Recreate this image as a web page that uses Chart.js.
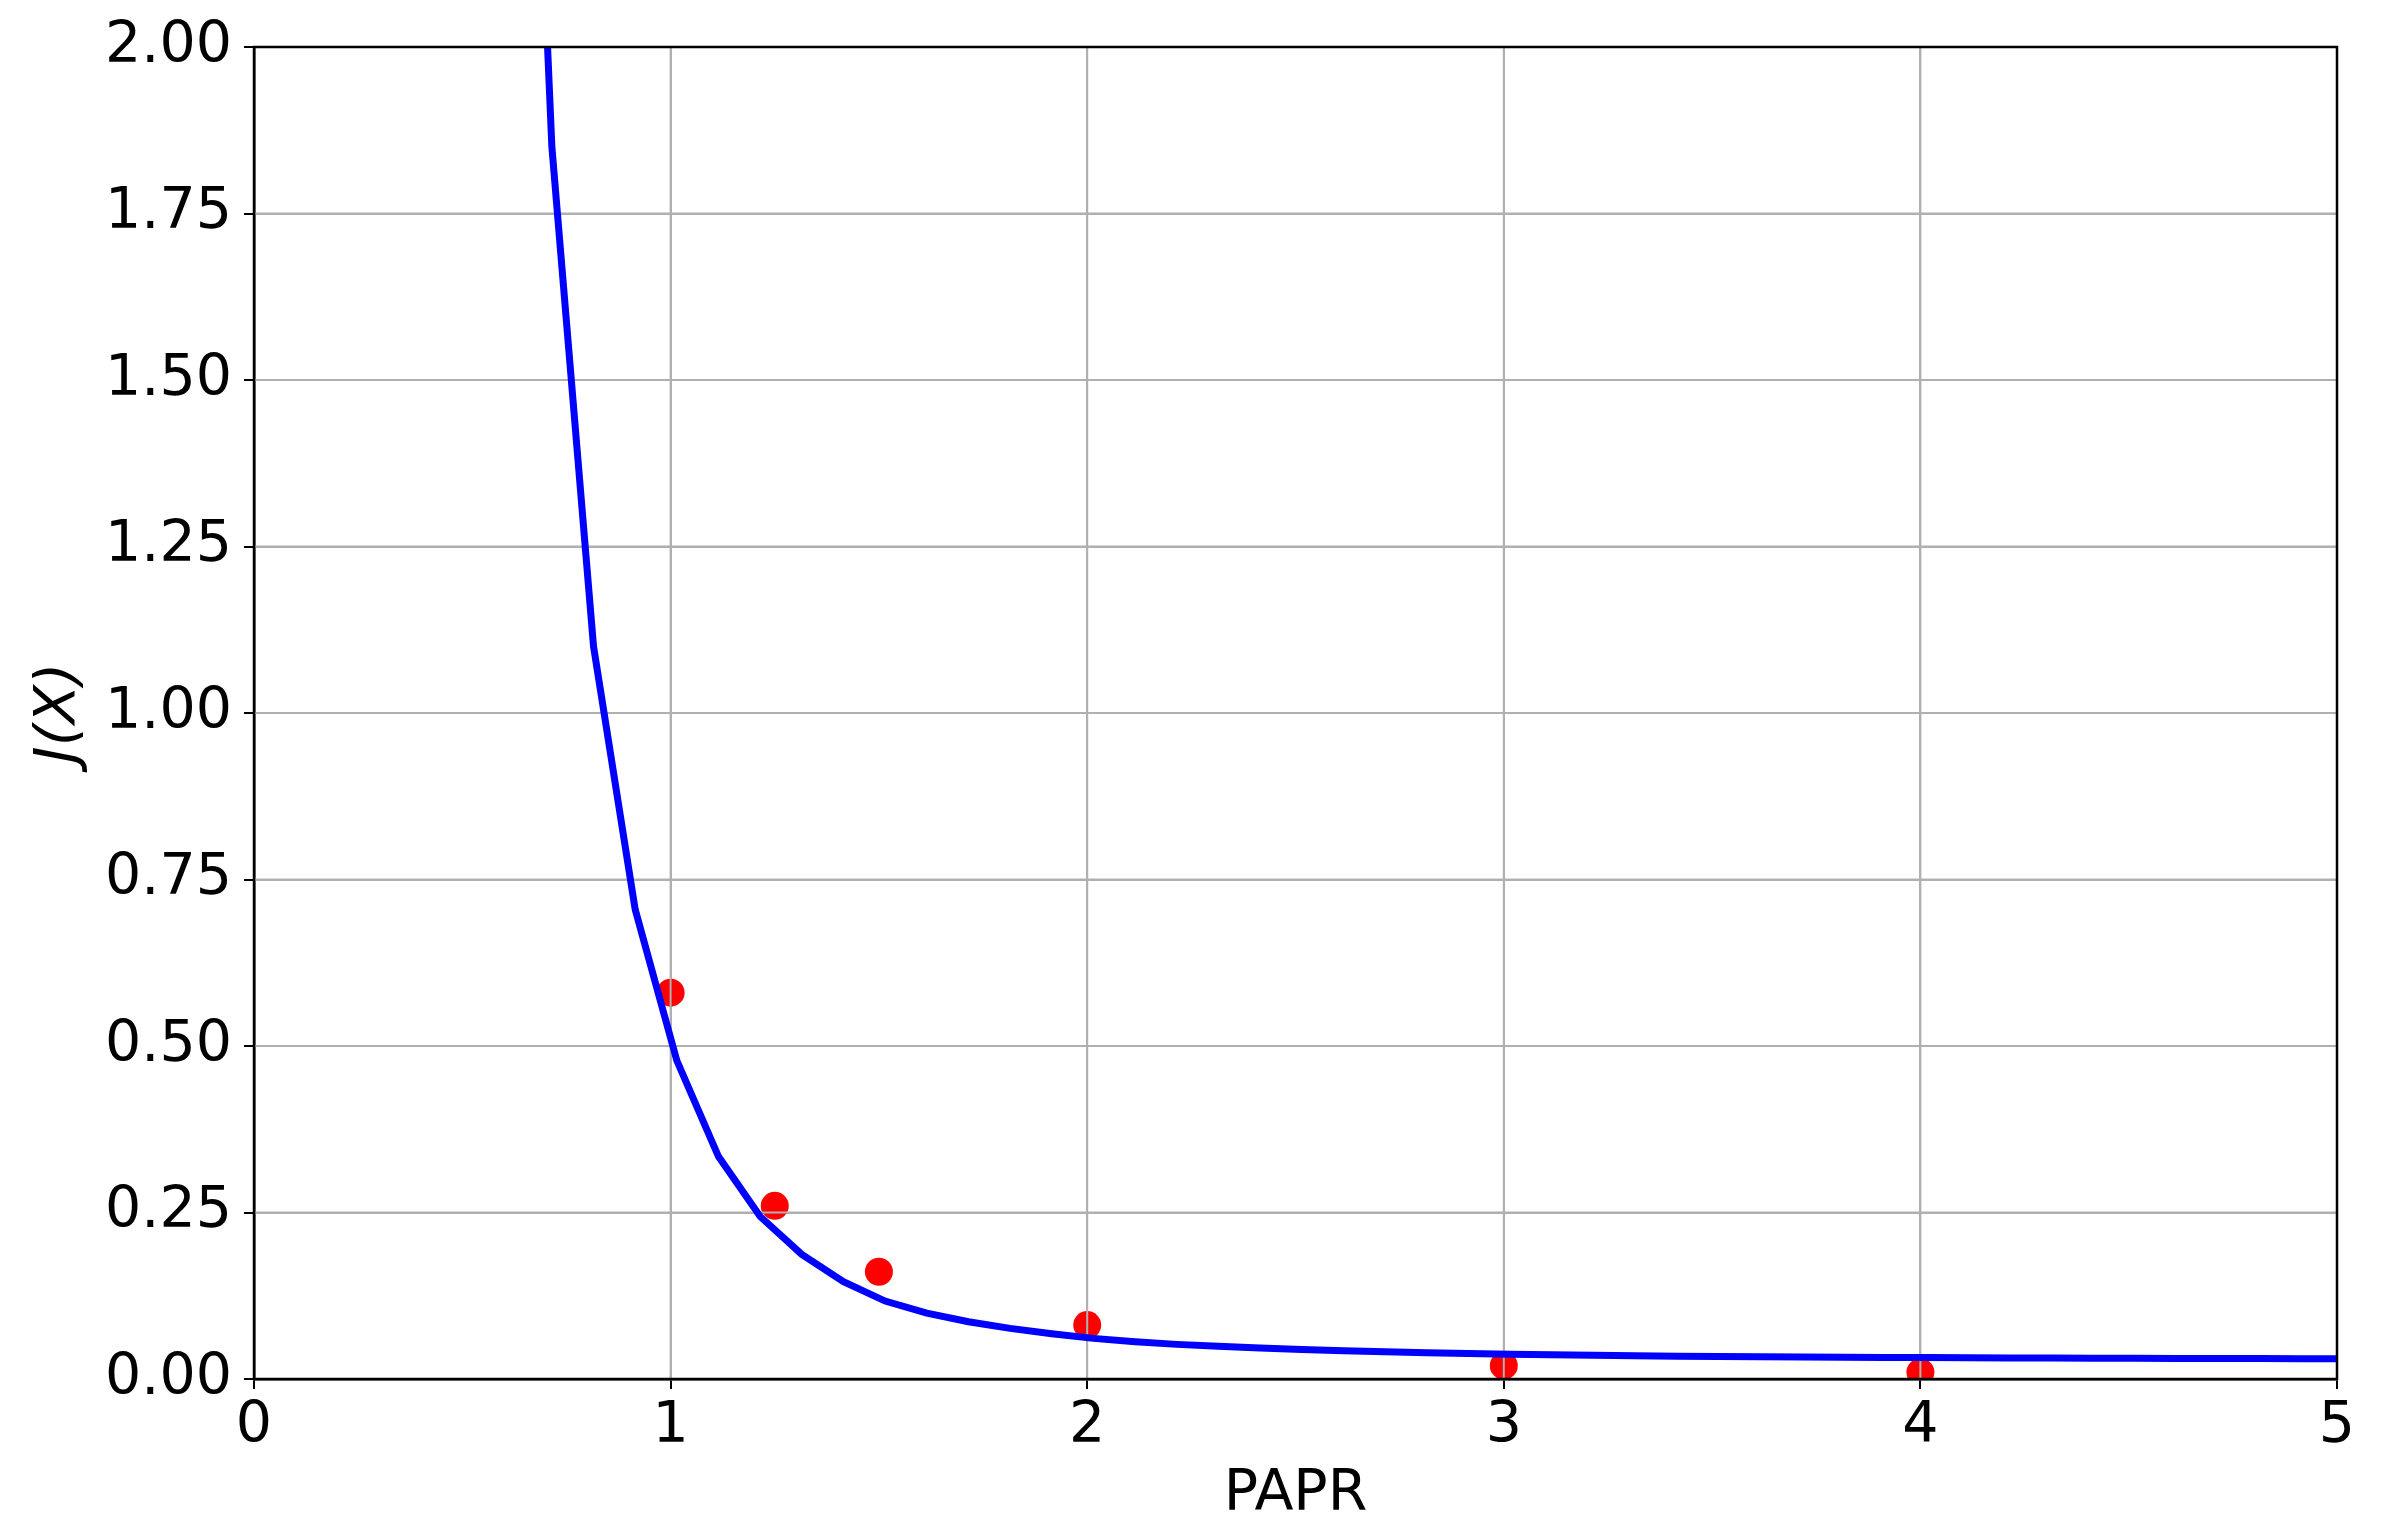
<!DOCTYPE html>
<html>
<head>
<meta charset="utf-8">
<title>J(X) vs PAPR</title>
<script src="https://cdn.jsdelivr.net/npm/chart.js@4.4.1/dist/chart.umd.min.js"></script>
<style>
  html, body { margin: 0; padding: 0; background: #fff; }
  #wrap { width: 2384px; height: 1533px; }
</style>
</head>
<body>
<div id="wrap"><canvas id="jChart" width="2384" height="1533"></canvas></div>
<script>
// model curve (one sample every 0.1 in PAPR)
const curveX = [0.615, 0.715, 0.815, 0.915, 1.015, 1.115, 1.215, 1.315, 1.415, 1.515,
  1.615, 1.715, 1.815, 1.915, 2.015, 2.115, 2.215, 2.315, 2.415, 2.515,
  2.615, 2.715, 2.815, 2.915, 3.015, 3.115, 3.215, 3.315, 3.415, 3.515,
  3.615, 3.715, 3.815, 3.915, 4.015, 4.115, 4.215, 4.315, 4.415, 4.515,
  4.615, 4.715, 4.815, 4.915, 5.015];
const curveY = [3.3, 1.85, 1.10, 0.705, 0.478, 0.334, 0.244, 0.187, 0.146, 0.117,
  0.099, 0.086, 0.076, 0.068, 0.061, 0.056, 0.052, 0.049, 0.0465, 0.0443,
  0.0425, 0.041, 0.0396, 0.0384, 0.0373, 0.0364, 0.0356, 0.0349, 0.0343, 0.0338,
  0.0334, 0.033, 0.0327, 0.0324, 0.0321, 0.0318, 0.0316, 0.0314, 0.0312, 0.031,
  0.0309, 0.0307, 0.0306, 0.0305, 0.0304];

// measured points (red dots)
const measX = [1, 1.25, 1.5, 2, 3, 4];
const measY = [0.58, 0.26, 0.161, 0.081, 0.02, 0.01];

const xTicks = [0, 1, 2, 3, 4, 5];
const yTicks = [0, 0.25, 0.5, 0.75, 1, 1.25, 1.5, 1.75, 2];

const gridColor = "#b0b0b0";
const fontSize = 57;

Chart.defaults.font.family = "'DejaVu Sans', sans-serif";
Chart.defaults.color = "#000";

// matplotlib puts the grid above the scatter but below the line
const gridOverDots = {
  id: "gridOverDots",
  beforeDatasetDraw(chart, args) {
    if (args.index !== 0) return;
    const { ctx, chartArea: a, scales: { x, y } } = chart;
    ctx.save();
    ctx.strokeStyle = gridColor;
    ctx.lineWidth = 2;
    ctx.beginPath();
    xTicks.forEach((v) => {
      const px = x.getPixelForValue(v);
      ctx.moveTo(px, a.top);
      ctx.lineTo(px, a.bottom);
    });
    yTicks.forEach((v) => {
      const py = y.getPixelForValue(v);
      ctx.moveTo(a.left, py);
      ctx.lineTo(a.right, py);
    });
    ctx.stroke();
    ctx.restore();
  },
};

// full box around the plot like matplotlib spines
const frame = {
  id: "frame",
  afterDatasetsDraw(chart) {
    const { ctx, chartArea: a } = chart;
    ctx.save();
    ctx.strokeStyle = "#000";
    ctx.lineWidth = 2.5;
    ctx.strokeRect(a.left, a.top, a.right - a.left, a.bottom - a.top);
    ctx.restore();
  },
};

const ctx = document.getElementById("jChart").getContext("2d");
const jChart = new Chart(ctx, {
  type: "scatter",
  data: {
    datasets: [
      {
        label: "model",
        data: curveX.map((x, i) => ({ x: x, y: curveY[i] })),
        showLine: true,
        borderColor: "#0000ff",
        borderWidth: 7,
        pointRadius: 0,
        tension: 0,
        fill: false,
        clip: 0,
      },
      {
        label: "measured",
        data: measX.map((x, i) => ({ x: x, y: measY[i] })),
        showLine: false,
        backgroundColor: "#ff0000",
        pointRadius: 14,
        pointBorderWidth: 0,
        borderWidth: 0,
        clip: 0,
      },
    ],
  },
  options: {
    responsive: false,
    animation: false,
    layout: { padding: { top: 47, right: 47, left: 0, bottom: 0 } },
    plugins: {
      legend: { display: false },
      tooltip: { enabled: false },
    },
    scales: {
      x: {
        type: "linear",
        min: 0,
        max: 5,
        afterBuildTicks: (scale) => { scale.ticks = xTicks.map((v) => ({ value: v })); },
        afterFit: (scale) => { scale.height = 154; },
        ticks: {
          font: { size: fontSize },
          padding: 4,
          maxRotation: 0,
          callback: (v) => String(v),
        },
        grid: { color: gridColor, lineWidth: 2, tickLength: 10, tickColor: "#000", tickWidth: 2 },
        border: { color: "#000", width: 2.5 },
        title: {
          display: true,
          text: "PAPR",
          font: { size: fontSize },
          padding: { top: 4, bottom: 4 },
        },
      },
      y: {
        type: "linear",
        min: 0,
        max: 2,
        afterBuildTicks: (scale) => { scale.ticks = yTicks.map((v) => ({ value: v })); },
        afterFit: (scale) => { scale.width = 254; },
        ticks: {
          font: { size: fontSize },
          padding: 12,
          callback: (v) => Number(v).toFixed(2),
        },
        grid: { color: gridColor, lineWidth: 2, tickLength: 10, tickColor: "#000", tickWidth: 2 },
        border: { color: "#000", width: 2.5 },
        title: {
          display: true,
          text: "J(X)",
          font: { size: fontSize, style: "italic" },
          padding: { top: 26, bottom: 0 },
        },
      },
    },
  },
  plugins: [gridOverDots, frame],
});
</script>
</body>
</html>
